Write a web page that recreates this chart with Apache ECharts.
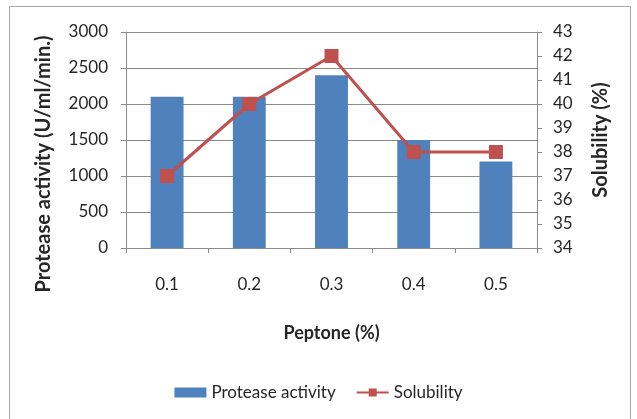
<!DOCTYPE html>
<html>
<head>
<meta charset="utf-8">
<script src="https://cdn.jsdelivr.net/npm/echarts@6/dist/echarts.min.js"></script>
<style>
html, body { margin: 0; padding: 0; background: #fff; }
#chart { width: 637px; height: 419px; }
</style>
</head>
<body>
<div id="chart"></div>
<script>
// Peptone concentration vs. protease activity and solubility
const categories = ['0.1', '0.2', '0.3', '0.4', '0.5'];
const proteaseActivity = [2100, 2100, 2400, 1500, 1200];
const solubility = [37, 40, 42, 38, 38];

const FONT = 'Lato';
const gray = '#8c8c8c';
const textColor = '#262626';

const chart = echarts.init(document.getElementById('chart'), null, { renderer: 'canvas' });

chart.setOption({
  backgroundColor: '#fff',
  animation: false,
  textStyle: { fontFamily: FONT },
  graphic: [{
    type: 'rect',
    shape: { x: 9.5, y: 6.5, width: 621, height: 430 },
    style: { fill: 'none', stroke: '#a6a6a6', lineWidth: 1 },
    z: -1
  }],
  grid: { left: 126, right: 100, top: 32, bottom: 171, containLabel: false },
  legend: {
    top: 379,
    left: 'center',
    itemGap: 20,
    itemWidth: 32,
    itemHeight: 10,
    textStyle: { fontFamily: FONT, fontSize: 17, color: textColor },
    data: [
      { name: 'Protease activity', icon: 'rect' },
      { name: 'Solubility' }
    ]
  },
  xAxis: {
    type: 'category',
    data: categories,
    name: 'Peptone (%)',
    nameLocation: 'middle',
    nameGap: 76,
    nameTextStyle: { fontFamily: FONT, fontSize: 18, fontWeight: 'bold', color: textColor },
    axisLine: { lineStyle: { color: gray, width: 1 } },
    axisTick: { show: true, alignWithLabel: false, length: 5, lineStyle: { color: gray } },
    axisLabel: { fontFamily: FONT, fontSize: 17, color: textColor, margin: 28 }
  },
  yAxis: [{
    type: 'value',
    min: 0,
    max: 3000,
    interval: 500,
    name: 'Protease activity (U/ml/min.)',
    nameLocation: 'middle',
    nameGap: 72,
    nameRotate: 90,
    nameTextStyle: { fontFamily: FONT, fontSize: 20, fontWeight: 'bold', color: textColor, padding: [0, 48, 0, 0] },
    axisLine: { show: true, lineStyle: { color: gray, width: 1 } },
    axisTick: { show: true, length: 5, lineStyle: { color: gray } },
    axisLabel: { fontFamily: FONT, fontSize: 17, color: textColor, margin: 18, formatter: v => String(v) },
    splitLine: { show: true, lineStyle: { color: gray, width: 1 } }
  }, {
    type: 'value',
    min: 34,
    max: 43,
    interval: 1,
    position: 'right',
    name: 'Solubility (%)',
    nameLocation: 'middle',
    nameGap: 54,
    nameRotate: 90,
    nameTextStyle: { fontFamily: FONT, fontSize: 20, fontWeight: 'bold', color: textColor },
    axisLine: { show: true, lineStyle: { color: gray, width: 1 } },
    axisTick: { show: true, length: 5, lineStyle: { color: gray } },
    axisLabel: { fontFamily: FONT, fontSize: 17, color: textColor, margin: 16 },
    splitLine: { show: false }
  }],
  series: [{
    name: 'Protease activity',
    type: 'bar',
    yAxisIndex: 0,
    data: proteaseActivity,
    barWidth: '40%',
    itemStyle: { color: '#4f81bd' }
  }, {
    name: 'Solubility',
    type: 'line',
    yAxisIndex: 1,
    data: solubility,
    symbol: 'rect',
    symbolSize: 14,
    lineStyle: { color: '#c0504d', width: 3 },
    itemStyle: { color: '#c0504d' },
    z: 3
  }]
});
</script>
</body>
</html>
